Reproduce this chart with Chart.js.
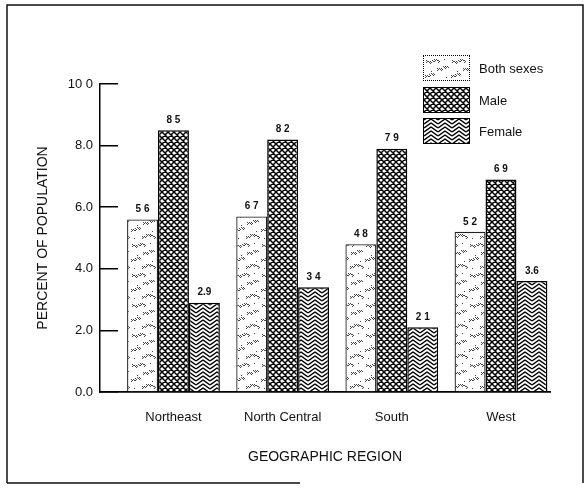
<!DOCTYPE html>
<html><head><meta charset="utf-8">
<script src="https://cdn.jsdelivr.net/npm/chart.js@4.4.0/dist/chart.umd.min.js"></script>
<style>
html,body{margin:0;padding:0;background:#fff;}
#wrap{position:relative;width:587px;height:488px;overflow:hidden;}
#c{display:block;}
.row{position:absolute;left:423px;height:24px;display:flex;align-items:center;font:13px "Liberation Sans",Arial,sans-serif;color:#111;}
.row canvas{display:block;box-sizing:border-box;border:1.5px solid #000;margin-right:9px;}
.row canvas.dot{border:1.5px dotted #000;}
</style></head>
<body><div id="wrap"><canvas id="c" width="587" height="488"></canvas><div id="legend"></div></div>
<script>
// ---- data ----
const categories = ['Northeast', 'North Central', 'South', 'West'];
const seriesNames = ['Both sexes', 'Male', 'Female'];
const bothSexes = [5.6, 5.7, 4.8, 5.2];
const male = [8.5, 8.2, 7.9, 6.9];
const female = [2.9, 3.4, 2.1, 3.6];
const bothLabels = ['5 6', '6 7', '4 8', '5 2'];
const maleLabels = ['8 5', '8 2', '7 9', '6 9'];
const femaleLabels = ['2.9', '3 4', '2 1', '3.6'];
const yTickLabels = ['0.0', '2.0', '4.0', '6.0', '8.0', '10 0'];

const FONT = '"Liberation Sans", Arial, Helvetica, sans-serif';

// ---- fill patterns ----
function tile(w, h, draw) {
  const c = document.createElement('canvas');
  c.width = w; c.height = h;
  const g = c.getContext('2d');
  g.fillStyle = '#fff'; g.fillRect(0, 0, w, h);
  draw(g, w, h);
  return c;
}
const bothTile = tile(26, 30, (g, w, h) => {
  g.fillStyle = '#444';
  const waves = [[2, 4, 0, 14], [13, 11, 1, 12], [1, 18, 2, 10], [12, 25, 3, 14]];
  waves.forEach(([x0, y0, s, len]) => {
    for (let x = 0; x < len; x += 2) {
      const y = y0 + Math.round(1.5 * Math.sin((x + s) / 2));
      g.fillRect((x0 + x) % w, y, 1, 1);
      g.fillRect((x0 + x + 1) % w, y + 1, 1, 1);
      if (x % 4 === 0) g.fillRect((x0 + x) % w, y + 2, 1, 1);
    }
  });
  g.fillRect(20, 3, 1, 1); g.fillRect(7, 15, 1, 1); g.fillRect(22, 21, 1, 1); g.fillRect(4, 28, 1, 1);
});
const maleTile = tile(6, 6, (g, w, h) => {
  g.strokeStyle = '#000'; g.lineWidth = 1.5;
  g.beginPath();
  for (let k = -1; k <= 1; k++) {
    g.moveTo(k * w, 0); g.lineTo(k * w + w, h);
    g.moveTo(k * w + w, 0); g.lineTo(k * w, h);
  }
  g.stroke();
});
const femaleTile = tile(14, 4, (g, w, h) => {
  g.strokeStyle = '#000'; g.lineWidth = 1.4;
  for (let k = -3; k <= 3; k++) {
    g.beginPath();
    g.moveTo(0, k * h + 5); g.lineTo(w / 2, k * h); g.lineTo(w, k * h + 5);
    g.stroke();
  }
});
const ctx = document.getElementById('c').getContext('2d');
const pBoth = ctx.createPattern(bothTile, 'repeat');
const pMale = ctx.createPattern(maleTile, 'repeat');
const pFemale = ctx.createPattern(femaleTile, 'repeat');

// ---- legend (HTML) ----
const legendEl = document.getElementById('legend');
[[seriesNames[0], bothTile, 56, true], [seriesNames[1], maleTile, 88, false], [seriesNames[2], femaleTile, 119, false]].forEach(([name, t, top, dotted]) => {
  const row = document.createElement('div');
  row.className = 'row'; row.style.top = top + 'px';
  const sw = document.createElement('canvas'); sw.width = 45; sw.height = 24;
  if (dotted) sw.className = 'dot';
  const g = sw.getContext('2d'); g.fillStyle = g.createPattern(t, 'repeat'); g.fillRect(0, 0, 45, 24);
  row.appendChild(sw);
  const sp = document.createElement('span'); sp.textContent = name; row.appendChild(sp);
  legendEl.appendChild(row);
});

// ---- plugins ----
const framePlugin = {
  id: 'frame',
  beforeDraw(chart) {
    const g = chart.ctx;
    g.save(); g.strokeStyle = '#111'; g.lineWidth = 1.5;
    g.beginPath();
    g.moveTo(7, 483); g.lineTo(7, 5); g.lineTo(583, 5); g.lineTo(583, 483);
    g.moveTo(7, 483); g.lineTo(300, 483);
    g.stroke(); g.restore();
  }
};
const valueLabelPlugin = {
  id: 'valueLabels',
  afterDatasetsDraw(chart) {
    const g = chart.ctx;
    g.save();
    g.font = 'bold 10px ' + FONT; g.fillStyle = '#111';
    g.textAlign = 'center'; g.textBaseline = 'middle';
    chart.data.datasets.forEach((ds, di) => {
      chart.getDatasetMeta(di).data.forEach((bar, i) => {
        g.fillText(ds.valueLabels[i], bar.x, bar.y - 10);
      });
    });
    g.restore();
  }
};

const toPoints = arr => arr.map((v, i) => ({ x: i + 1, y: v }));

new Chart(ctx, {
  type: 'bar',
  data: {
    datasets: [
      { label: seriesNames[0], data: toPoints(bothSexes), valueLabels: bothLabels, backgroundColor: pBoth, borderColor: '#222', borderWidth: 1.3 },
      { label: seriesNames[1], data: toPoints(male), valueLabels: maleLabels, backgroundColor: pMale, borderColor: '#000', borderWidth: 1.5 },
      { label: seriesNames[2], data: toPoints(female), valueLabels: femaleLabels, backgroundColor: pFemale, borderColor: '#000', borderWidth: 1.5 }
    ]
  },
  plugins: [framePlugin, valueLabelPlugin],
  options: {
    responsive: false,
    animation: false,
    layout: { padding: { left: 0, right: 37, top: 84, bottom: 0 } },
    datasets: { bar: { categoryPercentage: 0.85, barPercentage: 1.0 } },
    plugins: { legend: { display: false }, tooltip: { enabled: false } },
    scales: {
      x: {
        type: 'linear', min: 0.327, max: 4.449, bounds: 'data', offset: false,
        grid: { display: false, offset: false },
        border: { display: true, color: '#000', width: 1.8 },
        afterBuildTicks: s => { s.ticks = categories.map((c, i) => ({ value: i + 1 })); },
        ticks: {
          autoSkip: false, padding: 10, color: '#111',
          font: { size: 13, family: FONT },
          callback: v => categories[Math.round(v) - 1] || ''
        },
        title: { display: true, text: 'GEOGRAPHIC REGION', color: '#111', font: { size: 14, family: FONT }, padding: { top: 0, bottom: 22 } },
        afterFit: s => { s.height = 96; }
      },
      y: {
        min: 0, max: 10,
        grid: { drawOnChartArea: false, drawTicks: true, tickLength: -18, color: '#000', lineWidth: 1.5 },
        border: { display: true, color: '#000', width: 1.5 },
        ticks: {
          stepSize: 2, padding: 25, color: '#111',
          font: { size: 13, family: FONT },
          callback: v => yTickLabels[Math.round(v / 2)]
        },
        title: { display: true, text: 'PERCENT OF POPULATION', color: '#111', font: { size: 14, family: FONT }, padding: { top: 35, bottom: 0 } },
        afterFit: s => { s.width = 100; }
      }
    }
  }
});
</script>
</body></html>
